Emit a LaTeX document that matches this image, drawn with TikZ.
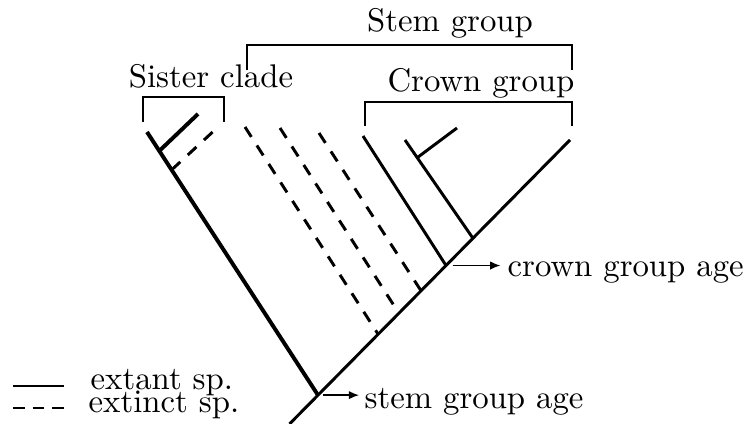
\documentclass[tikz,border=0pt]{standalone}
\usetikzlibrary{arrows.meta,positioning,calc}
\tikzset{
  branch/.style={draw,line width=0.9pt},
  stembranch/.style={draw,line width=1.2pt},
  lostbranch/.style={draw,line width=0.9pt,dash pattern=on 3.6pt off 3.1pt},
  keyline/.style={draw,line width=0.9pt,dash pattern=on 3.6pt off 2.4pt},
  bracket/.style={draw,line width=0.6pt},
  agearrow/.style={-{Latex[length=1.1mm,width=0.9mm]},line width=0.45pt},
  lbl/.style={inner sep=0pt,font=\normalsize}
}

\begin{document}
\begin{tikzpicture}[x=0.305pt,y=-0.305pt]
        \useasboundingbox (0,0) rectangle (749,424);
        \coordinate (base) at (289.5,424);
        \coordinate (tip) at (570,140);
        \coordinate (stem) at ($(base)!0.1016!(tip)$);
        \coordinate (crown) at ($(base)!0.558!(tip)$);
        \coordinate (inner) at ($(base)!0.654!(tip)$);
        \coordinate (stop) at (147,132);
        \coordinate (s1) at ($(stem)!0.928!(stop)$);
        \coordinate (s2) at ($(stem)!0.856!(stop)$);
        \coordinate (c1top) at (363,136);
        \coordinate (c2top) at (405,140);
        \coordinate (c2) at ($(c2top)!0.18!(inner)$);
        \draw[branch] (base) -- (tip);
        \draw[stembranch] (stem) -- (stop);
        \draw[stembranch] (s1) -- (198,114);
        \draw[lostbranch] (s2) -- (217,128);
        \draw[lostbranch] (245,127) -- ($(base)!0.316!(tip)$);
        \draw[lostbranch] (280,128) -- ($(base)!0.39!(tip)$);
        \draw[lostbranch] (319,133) -- ($(base)!0.469!(tip)$);
        \draw[branch] (c1top) -- (crown);
        \draw[branch] (c2top) -- (inner);
        \draw[branch] (c2) -- (457,128);
        % brackets
        \draw[bracket] (247,70) -- (247,45) -- (572,45) -- (572,70);
        \draw[bracket] (143,122) -- (143,97) -- (224,97) -- (224,122);
        \draw[bracket] (365,126) -- (365,102) -- (572,102) -- (572,126);
        \node[lbl,anchor=base] (stemlbl) at (450,32) {Stem group};
        \node[lbl,anchor=base] (sislbl) at (211,88) {Sister clade};
        \node[lbl,anchor=base] (crnlbl) at (481,92) {Crown group};
        % ages
        \node[lbl,anchor=base west] (cga) at (507,277) {crown group age};
        \node[lbl,anchor=base west] (sga) at (364,409) {stem group age};
        \draw[agearrow,shorten <=2pt,shorten >=2pt] (crown) -- (crown -| cga.west);
        \draw[agearrow,shorten <=1.5pt,shorten >=1.5pt] (stem) -- (stem -| sga.west);
        % legend
        \coordinate (k1) at (13,386);
        \coordinate (k2) at (64,386);
        \coordinate (k3) at (13,408);
        \coordinate (k4) at (65,408);
        \draw[branch] (k1) -- (k2);
        \draw[keyline] (k3) -- (k4);
        \node[lbl,anchor=base west] (extant) at (90,390) {extant sp.};
        \node[lbl,anchor=base west] (extinct) at (88,413) {extinct sp.};
      \end{tikzpicture}
\end{document}
